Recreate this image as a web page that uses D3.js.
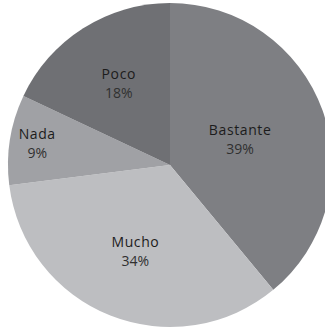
<!DOCTYPE html>
<html>
<head>
<meta charset="utf-8">
<script src="https://cdn.jsdelivr.net/npm/d3@7/dist/d3.min.js"></script>
<style>
  html, body { margin: 0; padding: 0; background: #ffffff; }
  svg { display: block; }
</style>
</head>
<body>
<svg id="chart" width="325" height="330"></svg>
<script>
// Survey answers and their shares (%)
const categories = ["Bastante", "Mucho", "Nada", "Poco"];
const shares = [39, 34, 9, 18];
const sliceColors = ["#7e7f83", "#bdbec1", "#a0a1a5", "#6f7074"];
// Distance of each label from the centre, as a fraction of the radius
const labelRadius = [0.46, 0.58, 0.83, 0.59];

const width = 325, height = 330;
const cx = 170, cy = 165, radius = 162;

const svg = d3.select("#chart");
const g = svg.append("g").attr("transform", `translate(${cx},${cy})`);

const data = categories.map((c, i) => ({ name: c, value: shares[i], color: sliceColors[i], lr: labelRadius[i] }));

const pie = d3.pie().value(d => d.value).sort(null);
const arc = d3.arc().innerRadius(0).outerRadius(radius);

const arcs = pie(data);

g.selectAll("path.slice")
  .data(arcs)
  .join("path")
  .attr("class", "slice")
  .attr("d", arc)
  .attr("fill", d => d.data.color);

const labels = g.selectAll("g.label")
  .data(arcs)
  .join("g")
  .attr("class", "label")
  .attr("transform", d => {
    const r = d.data.lr * radius;
    const c = d3.arc().innerRadius(r).outerRadius(r).centroid(d);
    return `translate(${c[0]},${c[1]})`;
  });

labels.append("text")
  .attr("text-anchor", "middle")
  .attr("y", -5)
  .attr("font-family", "'Open Sans', sans-serif")
  .attr("font-size", 14)
  .attr("letter-spacing", 0.6)
  .attr("fill", "#1c1c1c")
  .text(d => d.data.name);

labels.append("text")
  .attr("text-anchor", "middle")
  .attr("y", 14)
  .attr("font-family", "'Open Sans', sans-serif")
  .attr("font-size", 14)
  .attr("fill", "#303030")
  .text(d => d.data.value + "%");
</script>
</body>
</html>
